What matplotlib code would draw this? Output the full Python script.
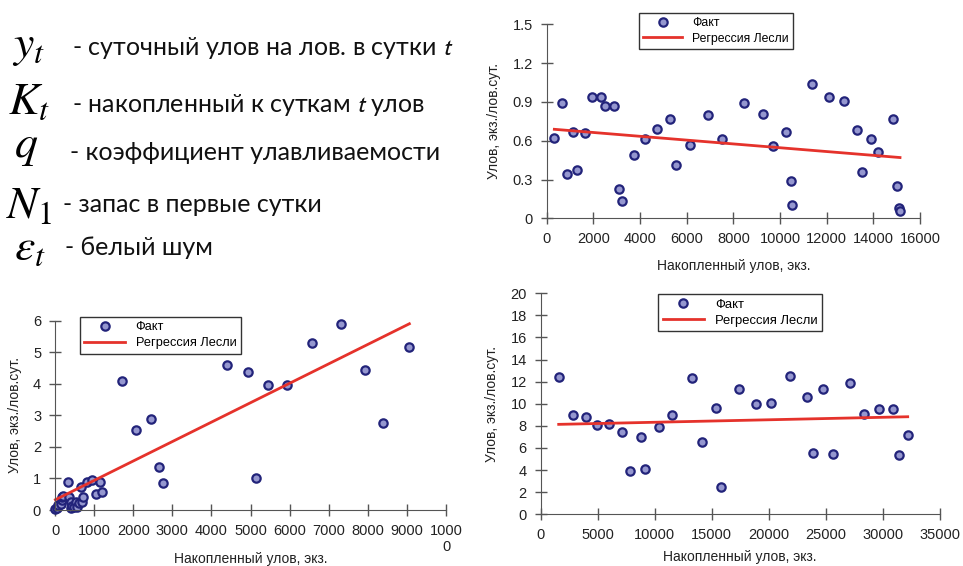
import numpy as np
import matplotlib.pyplot as plt

plt.rcParams['font.family'] = ['Liberation Sans', 'DejaVu Sans']

# --- данные: накопленный улов (K) и суточный улов на лов (y) ---
# верхний правый график
k_a = [327, 670, 857, 1143, 1314, 1643, 1929, 2329, 2500, 2900, 3114, 3243, 3729, 4200,
       4714, 5271, 5543, 6129, 6900, 7529, 8456, 9286, 9714, 10243, 10457, 10529, 11357,
       12086, 12757, 13300, 13529, 13900, 14200, 14843, 15000, 15114, 15143]
y_a = [0.62, 0.89, 0.34, 0.67, 0.37, 0.66, 0.94, 0.94, 0.87, 0.87, 0.23, 0.13, 0.49, 0.61,
       0.69, 0.77, 0.41, 0.57, 0.80, 0.61, 0.89, 0.81, 0.56, 0.67, 0.29, 0.10, 1.04,
       0.94, 0.91, 0.68, 0.36, 0.61, 0.51, 0.77, 0.25, 0.08, 0.06]
reg_a = (0.693, -1.474e-5)   # свободный член, наклон

# нижний левый график
k_b = [10, 43, 85, 145, 171, 191, 213, 341, 365, 401, 401, 443, 486, 529, 571, 614, 665,
       682, 713, 810, 938, 1036, 1140, 1210,
       1722, 2080, 2456, 2669, 2763, 4407, 4945, 5142, 5441, 5943, 6582, 7316, 7922,
       8398, 9063]
y_b = [0.03, 0.07, 0.16, 0.18, 0.32, 0.41, 0.44, 0.88, 0.41, 0.26, 0.07, 0.14, 0.10, 0.24,
       0.08, 0.21, 0.74, 0.26, 0.41, 0.88, 0.94, 0.52, 0.88, 0.58,
       4.08, 2.53, 2.90, 1.35, 0.86, 4.59, 4.38, 1.02, 3.96, 3.96, 5.29, 5.91, 4.45,
       2.77, 5.18]
reg_b = (0.32, 6.16e-4)

# нижний правый график
k_c = [1579, 2807, 4000, 4939, 5965, 7158, 7860, 8798, 9123, 10377, 11518, 13246, 14149,
       15377, 15816, 17369, 18860, 20228, 21868, 23360, 23860, 24763, 25614, 27158,
       28360, 29649, 30877, 31404, 32193]
y_c = [12.45, 9.01, 8.81, 8.08, 8.14, 7.42, 3.95, 6.97, 4.07, 7.93, 9.01, 12.33, 6.51,
       9.62, 2.44, 11.37, 9.98, 10.07, 12.54, 10.64, 5.57, 11.37, 5.46, 11.91,
       9.10, 9.53, 9.53, 5.34, 7.18]
reg_c = (8.104, 2.25e-5)

xt_a = [0, 2000, 4000, 6000, 8000, 10000, 12000, 14000, 16000]
yt_a = [0, 0.3, 0.6, 0.9, 1.2, 1.5]
ytl_a = ['0', '0.3', '0.6', '0.9', '1.2', '1.5']
xt_b = [0, 1000, 2000, 3000, 4000, 5000, 6000, 7000, 8000, 9000, 10000]
xtl_b = ['0', '1000', '2000', '3000', '4000', '5000', '6000', '7000', '8000', '9000', '1000\n0']
yt_b = [0, 1, 2, 3, 4, 5, 6]
xt_c = [0, 5000, 10000, 15000, 20000, 25000, 30000, 35000]
yt_c = [0, 2, 4, 6, 8, 10, 12, 14, 16, 18, 20]

rows = [r'$y_t$', r'$K_t$', r'$q$', r'$N_1$', r'$\varepsilon_t$']
notes = [r'- суточный улов на лов. в сутки $t$', r'- накопленный к суткам $t$ улов',
         '- коэффициент улавливаемости', '- запас в первые сутки', '- белый шум']

W, H = 963, 566
fig = plt.figure(figsize=(W / 100, H / 100), dpi=100)

# блок обозначений
sym_x = [12, 8, 14, 6, 14]
sym_base = [57, 114, 157, 218, 260]
txt_x = [72, 72, 70, 63, 65]
txt_base = [55, 112, 160, 212, 255]
for i in range(5):
    fig.text(sym_x[i] / W, 1 - sym_base[i] / H, rows[i], fontsize=33, va='baseline',
             math_fontfamily='stix')
    fig.text(txt_x[i] / W, 1 - txt_base[i] / H, notes[i], fontsize=18, va='baseline',
             family=['Lato', 'DejaVu Sans'], math_fontfamily='stixsans', color='#111111')


def panel(rect, k, y, reg, xlim, ylim, xt, yt, leg_xy, xlab_y, leg_fs, xtl=None, ytl=None):
    ax = fig.add_axes(rect)
    ax.plot(k, y, 'o', ls='none', ms=6, mfc='#9597cf', mec='#22237a', mew=1.6,
            label='Факт')
    kk = np.array(sorted(k))
    ax.plot(kk, reg[0] + reg[1] * kk, color='#e5322b', lw=2, label='Регрессия Лесли')
    ax.set_xlim(xlim)
    ax.set_ylim(ylim)
    ax.set_xticks(xt)
    ax.set_yticks(yt)
    if xtl is not None:
        ax.set_xticklabels(xtl)
    if ytl is not None:
        ax.set_yticklabels(ytl)
    for s in ['top', 'right']:
        ax.spines[s].set_visible(False)
    for s in ['left', 'bottom']:
        ax.spines[s].set_color('#555555')
    ax.tick_params(direction='inout', length=8, width=1, color='#555555',
                   labelsize=10.5, labelcolor='#222222', pad=6)
    ax.set_xlabel('Накопленный улов, экз.', fontsize=10, color='#222222')
    ax.set_ylabel('Улов, экз./лов.сут.', fontsize=10, color='#222222', labelpad=8)
    # положение подписи оси X (верх текста) в пикселях
    bot = (1 - rect[1]) * H
    ax.xaxis.set_label_coords(0.5, -(xlab_y - bot) / (rect[3] * H))
    for ln in ax.lines:
        ln.set_clip_on(False)
    leg = ax.legend(loc='upper left', bbox_to_anchor=leg_xy, bbox_transform=fig.transFigure,
                    borderaxespad=0, fancybox=False, edgecolor='#333333', fontsize=leg_fs,
                    handlelength=3.2, borderpad=0.35, labelspacing=0.3, framealpha=1)
    leg.get_frame().set_linewidth(1.0)
    return ax


panel([546.7 / W, 1 - 218.3 / H, 373.3 / W, 194 / H], k_a, y_a, reg_a,
      (0, 16000), (0, 1.5), xt_a, yt_a, (639 / W, 1 - 12.7 / H), 259, 8.8, ytl=ytl_a)
panel([55 / W, 1 - 510 / H, 391 / W, 189.3 / H], k_b, y_b, reg_b,
      (0, 10000), (0, 6), xt_b, yt_b, (80 / W, 1 - 317 / H), 552, 9.2, xtl=xtl_b)
panel([540.7 / W, 1 - 514.3 / H, 399 / W, 221 / H], k_c, y_c, reg_c,
      (0, 35000), (0, 20), xt_c, yt_c, (658 / W, 1 - 294 / H), 550, 9.4)

fig.savefig('out.png', dpi=100)
